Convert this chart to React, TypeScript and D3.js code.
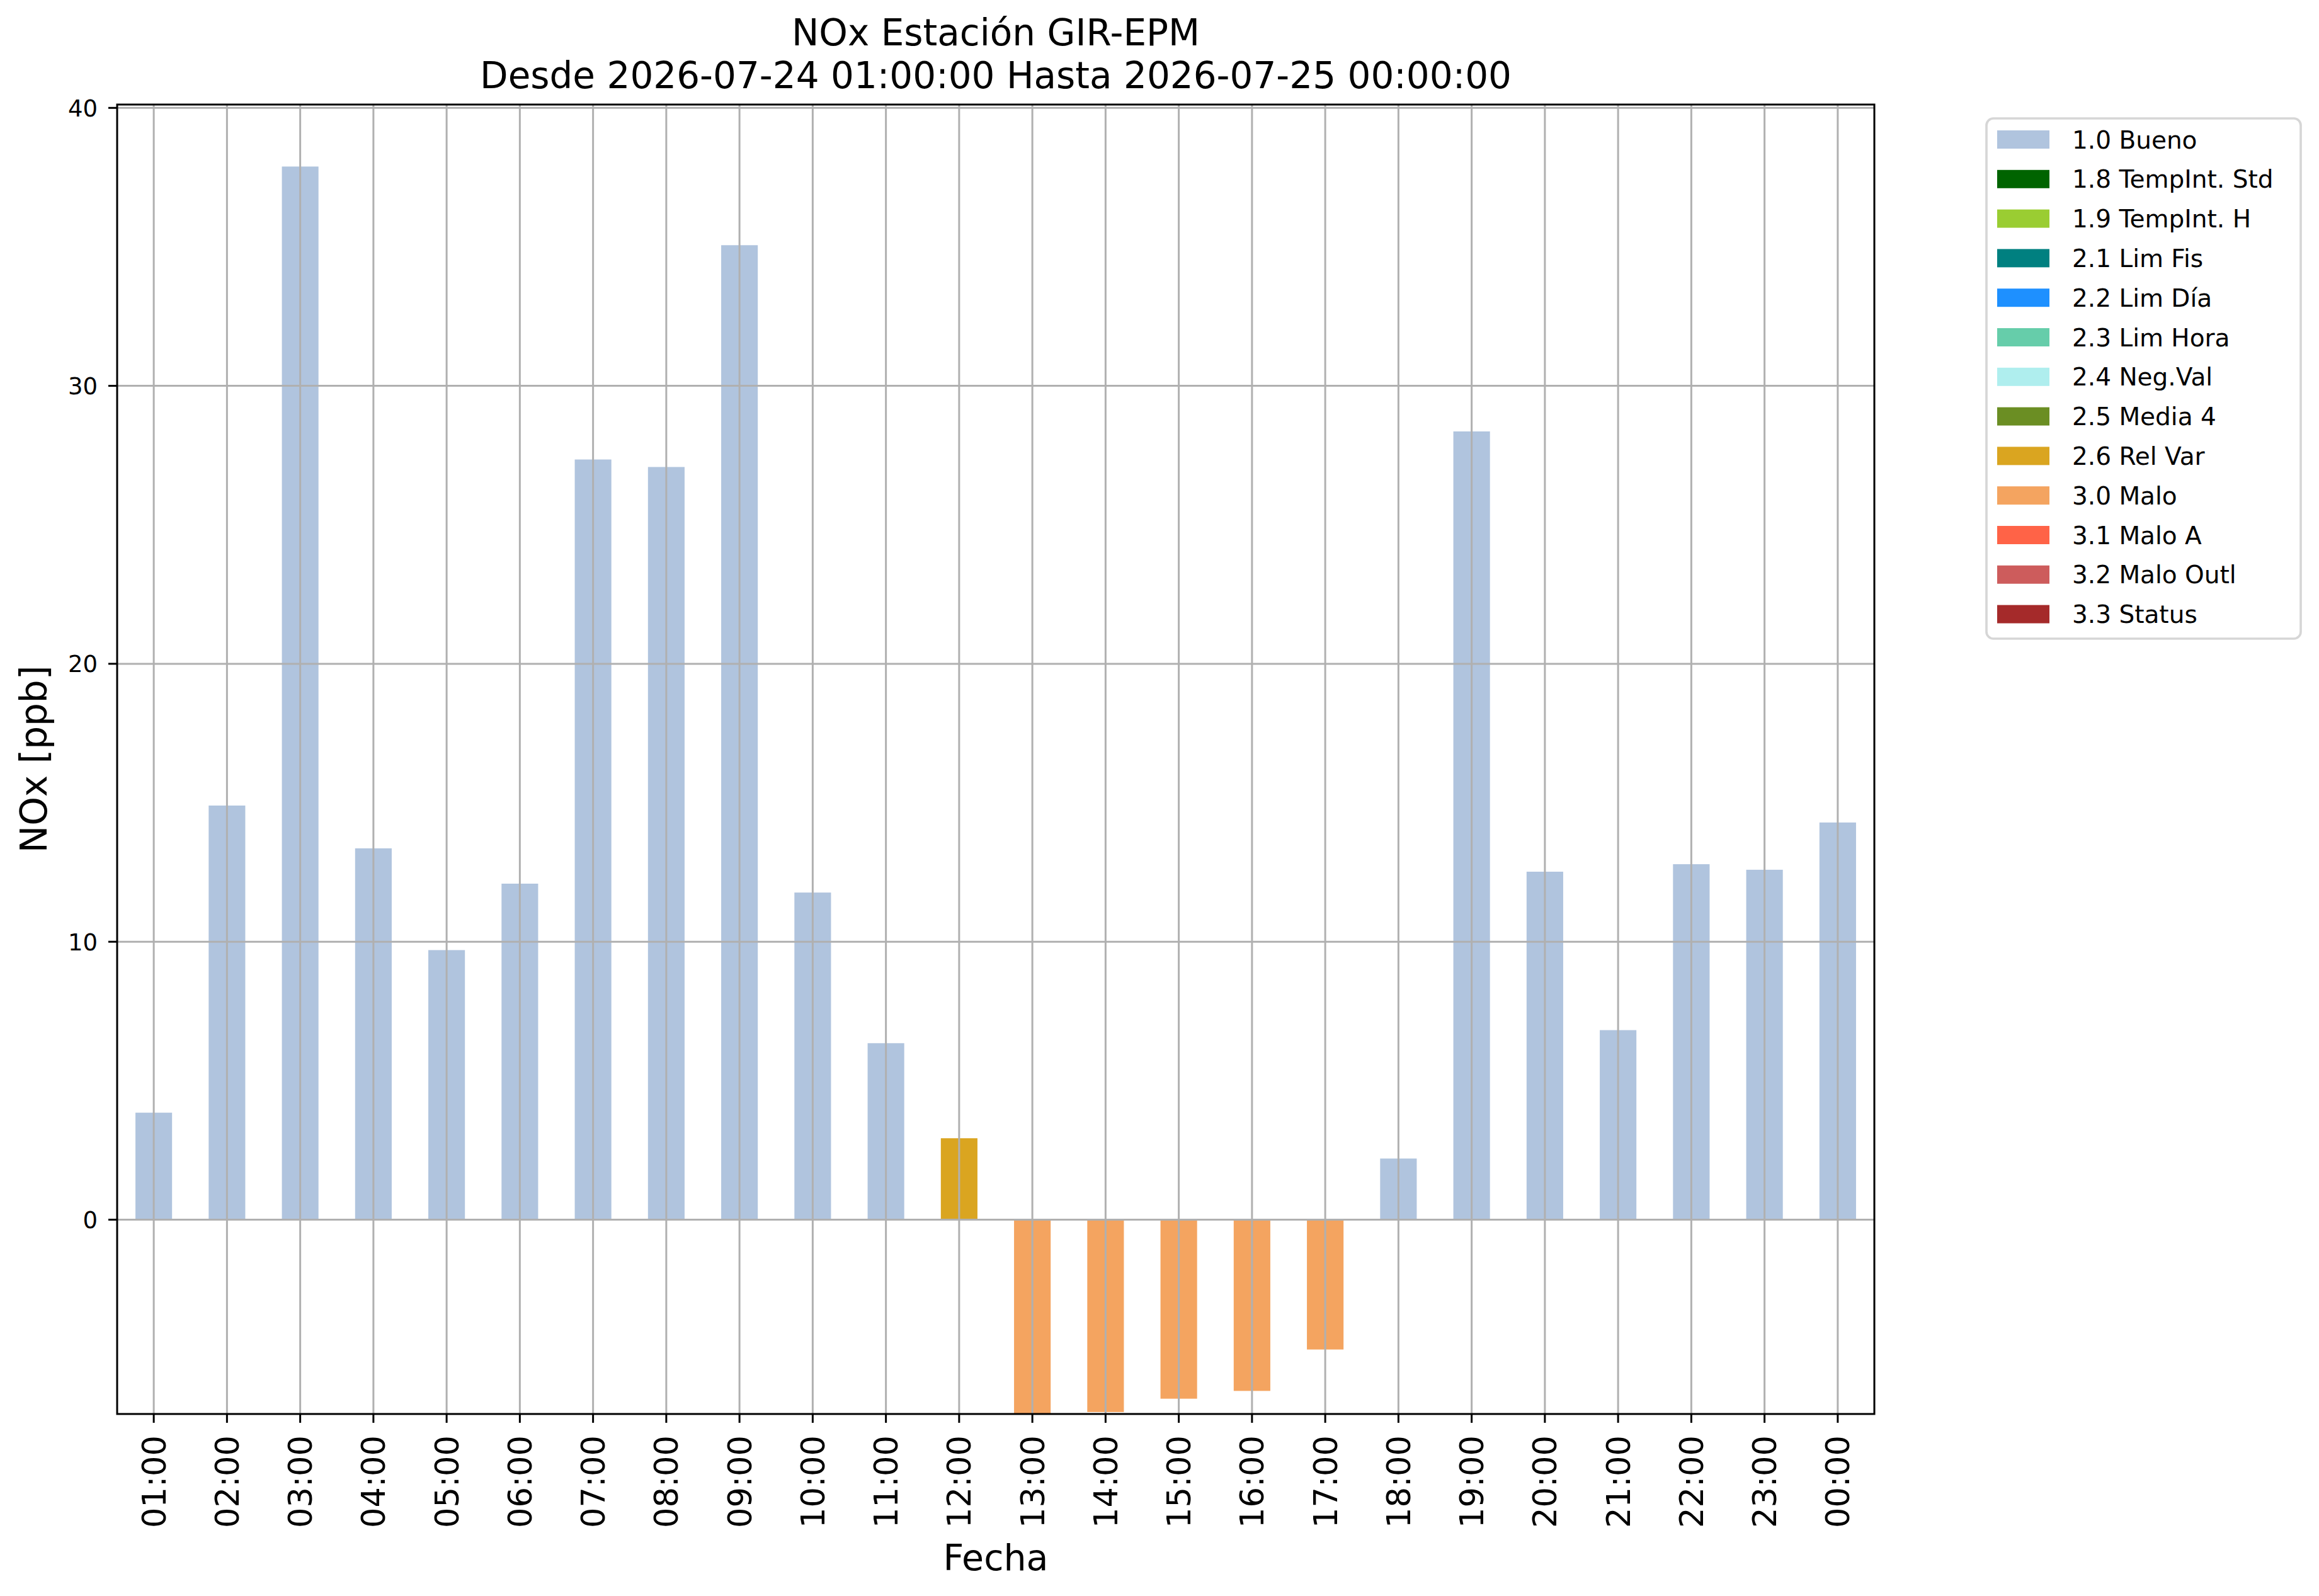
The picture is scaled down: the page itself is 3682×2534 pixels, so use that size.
import React from "react";
import * as d3 from "d3";

// hourly labels, NOx values [ppb] and quality flag per hour
const hours = [
    "01:00", "02:00", "03:00", "04:00", "05:00", "06:00", "07:00", "08:00",
    "09:00", "10:00", "11:00", "12:00", "13:00", "14:00", "15:00", "16:00",
    "17:00", "18:00", "19:00", "20:00", "21:00", "22:00", "23:00", "00:00"
];
const values = [
    3.85, 14.9, 37.89, 13.36, 9.7, 12.09, 27.35, 27.08,
    35.06, 11.77, 6.35, 2.93, -7.05, -6.92, -6.44, -6.16,
    -4.67, 2.2, 28.36, 12.52, 6.82, 12.79, 12.59, 14.29
];
const flags = [
    "1.0 Bueno", "1.0 Bueno", "1.0 Bueno", "1.0 Bueno", "1.0 Bueno", "1.0 Bueno",
    "1.0 Bueno", "1.0 Bueno", "1.0 Bueno", "1.0 Bueno", "1.0 Bueno", "2.6 Rel Var",
    "3.0 Malo", "3.0 Malo", "3.0 Malo", "3.0 Malo", "3.0 Malo", "1.0 Bueno",
    "1.0 Bueno", "1.0 Bueno", "1.0 Bueno", "1.0 Bueno", "1.0 Bueno", "1.0 Bueno"
];
const legendLabels = [
    "1.0 Bueno", "1.8 TempInt. Std", "1.9 TempInt. H", "2.1 Lim Fis", "2.2 Lim Día",
    "2.3 Lim Hora", "2.4 Neg.Val", "2.5 Media 4", "2.6 Rel Var", "3.0 Malo",
    "3.1 Malo A", "3.2 Malo Outl", "3.3 Status"
];
const legendColors = [
    "#b0c4de", "#006400", "#9acd32", "#008080", "#1e90ff",
    "#66cdaa", "#afeeee", "#6b8e23", "#daa520", "#f4a460",
    "#ff6347", "#cd5c5c", "#a52a2a"
];
const yTicks = [0, 10, 20, 30, 40];

const width = 3682;
const height = 2534;
const margin = {left: 186, right: 706, top: 166, bottom: 289};
const font = "DejaVu Sans";
const gridColor = "#b0b0b0";

export default function App() {
    const color = d3.scaleOrdinal<string, string>().domain(legendLabels).range(legendColors);

    const xScale = d3.scaleLinear()
        .domain([-0.5, hours.length - 0.5])
        .range([margin.left, width - margin.right]);

    const yScale = d3.scaleLinear()
        .domain([-6.99, 40.12])
        .range([height - margin.bottom, margin.top]);

    const plotLeft = margin.left;
    const plotRight = width - margin.right;
    const plotTop = margin.top;
    const plotBottom = height - margin.bottom;
    const cx = (plotLeft + plotRight) / 2;
    const barW = xScale(0.25) - xScale(-0.25);

    return (
        <svg width={width} height={height}
             style={{position: "absolute", left: 0, top: 0, background: "white"}}
             fontFamily={font}>
            <defs>
                <clipPath id="plot">
                    <rect x={plotLeft} y={plotTop} width={plotRight - plotLeft} height={plotBottom - plotTop}/>
                </clipPath>
            </defs>
            <rect x={0} y={0} width={width} height={height} fill="white"/>

            {/* bars */}
            <g clipPath="url(#plot)">
                {values.map((v, i) => (
                    <rect key={i}
                          x={xScale(i) - barW / 2}
                          y={Math.min(yScale(v), yScale(0))}
                          width={barW}
                          height={Math.abs(yScale(v) - yScale(0))}
                          fill={color(flags[i])}/>
                ))}
            </g>

            {/* grid on top of the bars */}
            <g stroke={gridColor} strokeWidth={3}>
                {hours.map((h, i) => (
                    <line key={h} x1={xScale(i)} x2={xScale(i)} y1={plotTop} y2={plotBottom}/>
                ))}
                {yTicks.map(t => (
                    <line key={t} x1={plotLeft} x2={plotRight} y1={yScale(t)} y2={yScale(t)}/>
                ))}
            </g>

            {/* spines */}
            <rect x={plotLeft} y={plotTop} width={plotRight - plotLeft} height={plotBottom - plotTop}
                  fill="none" stroke="black" strokeWidth={3}/>

            {/* y axis */}
            <g>
                {yTicks.map(t => (
                    <g key={t} transform={`translate(0,${yScale(t)})`}>
                        <line x1={plotLeft - 14} x2={plotLeft} stroke="black" strokeWidth={3}/>
                        <text x={plotLeft - 31} dy="0.36em" textAnchor="end" fontSize={37}>{t}</text>
                    </g>
                ))}
            </g>

            {/* x axis */}
            <g>
                {hours.map((h, i) => (
                    <g key={h} transform={`translate(${xScale(i)},0)`}>
                        <line y1={plotBottom} y2={plotBottom + 14} stroke="black" strokeWidth={3}/>
                        <text transform={`translate(0,${plotBottom + 34}) rotate(-90)`}
                              dy="0.36em" textAnchor="end" fontSize={51}>{h}</text>
                    </g>
                ))}
            </g>

            {/* labels */}
            <text x={cx} y={2493} textAnchor="middle" fontSize={57}>Fecha</text>
            <text transform={`translate(74,${(plotTop + plotBottom) / 2}) rotate(-90)`}
                  textAnchor="middle" fontSize={58}>NOx [ppb]</text>
            <text x={cx} y={72} textAnchor="middle" fontSize={58}>NOx Estación GIR-EPM</text>
            <text x={cx} y={140} textAnchor="middle" fontSize={58}>Desde 2026-07-24 01:00:00 Hasta 2026-07-25 00:00:00</text>

            {/* legend */}
            <g>
                <rect x={3154} y={188} width={499} height={826} rx={11} ry={11}
                      fill="white" stroke="#d6d6d6" strokeWidth={3.7}/>
                {legendLabels.map((l, i) => {
                    const y = 221.5 + i * 62.8;
                    return (
                        <g key={l}>
                            <rect x={3171} y={y - 14.5} width={83} height={29} fill={legendColors[i]}/>
                            <text x={3290} y={y} dy="0.36em" fontSize={39}>{l}</text>
                        </g>
                    );
                })}
            </g>
        </svg>
    );
}
